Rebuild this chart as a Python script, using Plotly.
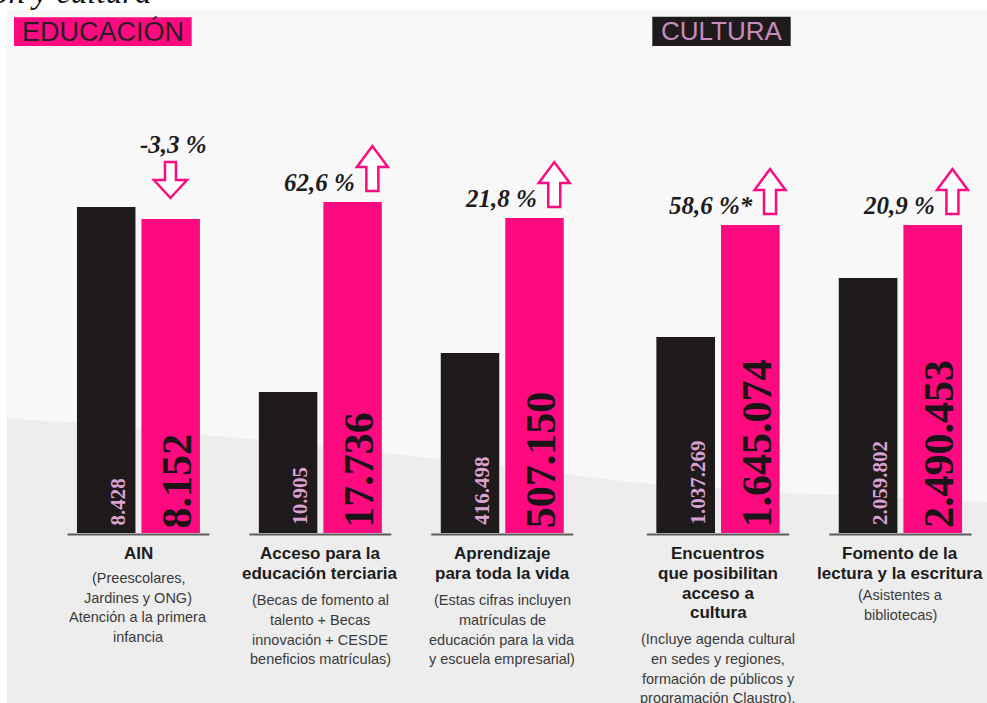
import plotly.graph_objects as go

# ---------------- data ----------------
categories = [
    "AIN",
    "Acceso para la educación terciaria",
    "Aprendizaje para toda la vida",
    "Encuentros que posibilitan acceso a cultura",
    "Fomento de la lectura y la escritura",
]
sections = ["EDUCACIÓN", "EDUCACIÓN", "EDUCACIÓN", "CULTURA", "CULTURA"]
title_lines = [
    ["AIN"],
    ["Acceso para la", "educación terciaria"],
    ["Aprendizaje", "para toda la vida"],
    ["Encuentros", "que posibilitan", "acceso a", "cultura"],
    ["Fomento de la", "lectura y la escritura"],
]
subtitle_lines = [
    ["(Preescolares,", "Jardines y ONG)", "Atención a la primera", "infancia"],
    ["(Becas de fomento al", "talento + Becas", "innovación + CESDE", "beneficios matrículas)"],
    ["(Estas cifras incluyen", "matrículas de", "educación para la vida", "y escuela empresarial)"],
    ["(Incluye agenda cultural", "en sedes y regiones,", "formación de públicos y", "programación Claustro)."],
    ["(Asistentes a", "bibliotecas)"],
]
prev_labels = ["8.428", "10.905", "416.498", "1.037.269", "2.059.802"]
curr_labels = ["8.152", "17.736", "507.150", "1.645.074", "2.490.453"]
change_pct = [-3.3, 62.6, 21.8, 58.6, 20.9]
change_labels = ["-3,3 %", "62,6 %", "21,8 %", "58,6 %*", "20,9 %"]
# drawn bar heights as they appear in the infographic (each group has its own scale)
prev_bar_height = [326, 141, 180, 196, 255]
curr_bar_height = [314, 331, 315, 308, 308]

# ---------------- layout helpers ----------------
W, H = 987, 703


def px(x):
    return x / W


def py(y):
    return 1 - y / H


PINK = "#fe0a80"
BLACK = "#1f1b1c"
LILAC = "#d9a2d2"
SANS = "Liberation Sans"
SERIF = "Liberation Serif"

title_gap = [24, 26.5, 26.5, 26.5, 21.5]

panels = [("x", "y", [0, 1, 2]), ("x2", "y2", [3, 4])]

fig = go.Figure()
shapes = []
annotations = []

# background panel and diagonal band
shapes.append(dict(type="rect", xref="paper", yref="paper", x0=px(7), x1=1, y0=0, y1=py(9),
                   fillcolor="#f8f8f8", line_width=0, layer="below"))
wave = [(7, 418), (77, 423), (240, 438), (420, 457), (640, 483), (790, 493), (987, 502)]
path = "M " + " L ".join(f"{px(a):.5f},{py(b):.5f}" for a, b in wave)
path += f" L {px(987):.5f},0 L {px(7):.5f},0 Z"
shapes.append(dict(type="path", xref="paper", yref="paper", path=path,
                   fillcolor="#ededed", line_width=0, layer="below"))

# section headers
shapes.append(dict(type="rect", xref="paper", yref="paper", x0=px(14), x1=px(191.7),
                   y0=py(46), y1=py(17.3), fillcolor=PINK, line_width=0))
annotations.append(dict(text=sections[0], xref="paper", yref="paper", x=px(103), y=py(31.6),
                        xanchor="center", yanchor="middle", showarrow=False,
                        font=dict(family=SANS, size=27, color="#2a1c24")))
shapes.append(dict(type="rect", xref="paper", yref="paper", x0=px(652.3), x1=px(790.7),
                   y0=py(46), y1=py(16.7), fillcolor=BLACK, line_width=0))
annotations.append(dict(text=sections[3], xref="paper", yref="paper", x=px(721.5), y=py(31.4),
                        xanchor="center", yanchor="middle", showarrow=False,
                        font=dict(family=SANS, size=26, color="#c68cbd")))

# cut-off title at the very top
annotations.append(dict(text="ón y cultura", xref="paper", yref="paper", x=0, y=1,
                        xanchor="left", yanchor="bottom", xshift=-10, yshift=-12, showarrow=False,
                        font=dict(family=SERIF, size=33, color="#111111", style="italic")))

for xa, ya, idx in panels:
    pos = list(range(len(idx)))
    fig.add_trace(go.Bar(
        x=pos, y=[prev_bar_height[i] for i in idx],
        marker=dict(color=BLACK, line_width=0), xaxis=xa, yaxis=ya,
        hoverinfo="skip", showlegend=False))
    fig.add_trace(go.Bar(
        x=pos, y=[curr_bar_height[i] for i in idx],
        marker=dict(color=PINK, line_width=0), xaxis=xa, yaxis=ya,
        hoverinfo="skip", showlegend=False))

    for p, i in zip(pos, idx):
        # value labels, rotated, near the bar base
        annotations.append(dict(text=prev_labels[i], xref=xa, yref=ya, x=p, y=0, textangle=-90,
                                xanchor="center", yanchor="bottom", xshift=-20.5, yshift=6,
                                showarrow=False,
                                font=dict(family=SERIF, size=21, color=LILAC, weight="bold")))
        annotations.append(dict(text=curr_labels[i], xref=xa, yref=ya, x=p, y=0, textangle=-90,
                                xanchor="center", yanchor="bottom", xshift=38.5, yshift=3,
                                showarrow=False,
                                font=dict(family=SERIF, size=42, color="#1a1416", weight="bold")))
        # baseline under each group
        shapes.append(dict(type="line", xref=xa, yref=ya, x0=p - 0.39, x1=p + 0.39, y0=-1.5, y1=-1.5,
                           line=dict(color="#5c5c5c", width=2)))
        top = curr_bar_height[i]
        pct_font = dict(family=SERIF, size=25, color="#1d1d1d", weight="bold", style="italic")
        if change_pct[i] >= 0:
            cx = 52
            arrow = (f"M {cx-6},11 L {cx+6},11 L {cx+6},35 L {cx+15.5},35 L {cx},56 "
                     f"L {cx-15.5},35 L {cx-6},35 Z")
            annotations.append(dict(text=change_labels[i], xref=xa, yref=ya, x=p, y=top,
                                    xanchor="right", yanchor="bottom", xshift=cx - 15, yshift=4,
                                    showarrow=False, font=pct_font))
        else:
            cx = 32
            arrow = (f"M {cx-5.5},57 L {cx+5.5},57 L {cx+5.5},39 L {cx+16.5},39 L {cx},21 "
                     f"L {cx-16.5},39 L {cx-5.5},39 Z")
            annotations.append(dict(text=change_labels[i], xref=xa, yref=ya, x=p, y=top,
                                    xanchor="center", yanchor="bottom", xshift=cx + 3, yshift=59,
                                    showarrow=False, font=pct_font))
        shapes.append(dict(type="path", xref=xa, yref=ya, xsizemode="pixel", ysizemode="pixel",
                           xanchor=p, yanchor=top, path=arrow, fillcolor="#ffffff",
                           line=dict(color=PINK, width=2.5)))

        # category labels
        y0 = 553.8
        for k, line in enumerate(title_lines[i]):
            annotations.append(dict(text=line, xref=xa, yref="paper", x=p, y=py(y0 + k * 19.6),
                                    xanchor="center", yanchor="middle", showarrow=False,
                                    font=dict(family=SANS, size=17, color="#1c1c1c", weight="bold")))
        ys = y0 + (len(title_lines[i]) - 1) * 19.6 + title_gap[i]
        for k, line in enumerate(subtitle_lines[i]):
            annotations.append(dict(text=line, xref=xa, yref="paper", x=p, y=py(ys + k * 19.8),
                                    xanchor="center", yanchor="middle", showarrow=False,
                                    font=dict(family=SANS, size=14.5, color="#3a3a3a")))

ydom = [py(536), py(63)]
fig.update_layout(
    width=W, height=H, margin=dict(l=0, r=0, t=0, b=0),
    paper_bgcolor="#ffffff", plot_bgcolor="rgba(0,0,0,0)",
    barmode="group", bargap=0.291, bargroupgap=0.093,
    xaxis=dict(domain=[px(47.5), px(593.2)], range=[-0.5, 2.5], visible=False, fixedrange=True),
    xaxis2=dict(domain=[px(626.8), px(982.5)], range=[-0.5, 1.45], visible=False, fixedrange=True,
                anchor="y2"),
    yaxis=dict(domain=ydom, range=[-3, 470], visible=False, fixedrange=True),
    yaxis2=dict(domain=ydom, range=[-3, 470], visible=False, fixedrange=True, anchor="x2"),
    shapes=shapes, annotations=annotations, showlegend=False,
)

fig.write_html("out.html", config={"displayModeBar": False},
               post_script="document.body.style.margin='0';document.body.style.overflow='hidden';")
